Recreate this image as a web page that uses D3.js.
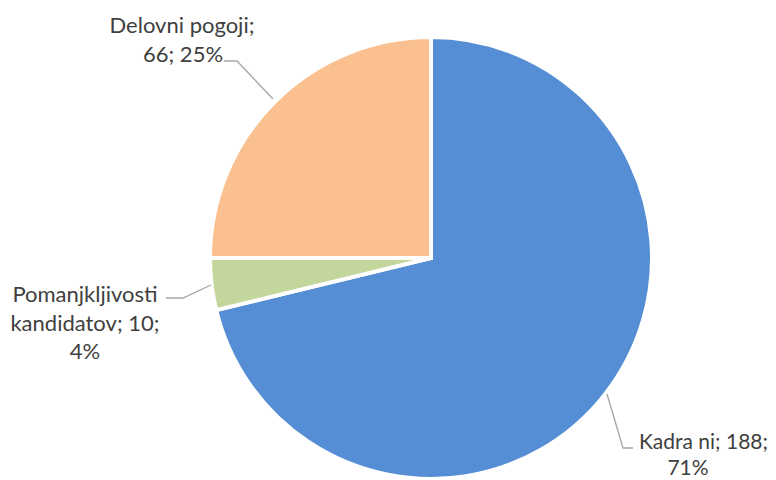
<!DOCTYPE html>
<html><head><meta charset="utf-8">
<script src="https://cdn.jsdelivr.net/npm/d3@7"></script>
<style>body{margin:0;background:#fff}svg{display:block}</style>
</head><body>
<svg id="c" width="776" height="480"></svg>
<script>
const categories = ["Kadra ni", "Pomanjkljivosti kandidatov", "Delovni pogoji"];
const values = [188, 10, 66];
const percents = ["71%", "4%", "25%"];
const colors = ["#558ED5", "#C3D69B", "#FAC090"];
const labelLines = [["Kadra ni; 188;", "71%"], ["Pomanjkljivosti", "kandidatov; 10;", "4%"], ["Delovni pogoji;", "66; 25%"]];

const svg = d3.select("#c");
const cx = 431, cy = 258, R = 221;
const g = svg.append("g").attr("transform", `translate(${cx},${cy})`);
const pie = d3.pie().sort(null).value(d => d)(values);
const arc = d3.arc().innerRadius(0).outerRadius(R);
g.selectAll("path").data(pie).join("path")
  .attr("d", arc).attr("fill", (d, i) => colors[i])
  .attr("stroke", "#fff").attr("stroke-width", 4).attr("stroke-linejoin", "miter");

const leader = [
  { fs: 21, pts: [[607, 394], [623, 448], [633, 448]], lines: [[639, 449, "start"], [688, 475, "middle"]] },
  { fs: 22, pts: [[211, 285], [183, 298], [166, 298]], lines: [[85, 302, "middle"], [85, 331, "middle"], [85, 359, "middle"]] },
  { fs: 22, pts: [[273, 99], [237, 61], [224, 61]], lines: [[182, 33, "middle"], [183, 62, "middle"]] }
];
leader.forEach((L, i) => {
  svg.append("path").attr("d", d3.line()(L.pts)).attr("fill", "none")
    .attr("stroke", "#A6A6A6").attr("stroke-width", 1.3);
  const t = svg.append("text").attr("font-family", "Lato, 'Open Sans', sans-serif")
    .attr("font-size", L.fs).attr("fill", "#404040");
  labelLines[i].forEach((s, k) => {
    const [x, y, a] = L.lines[k];
    t.append("tspan").attr("x", x).attr("y", y).attr("text-anchor", a).text(s);
  });
});
</script>
</body></html>
